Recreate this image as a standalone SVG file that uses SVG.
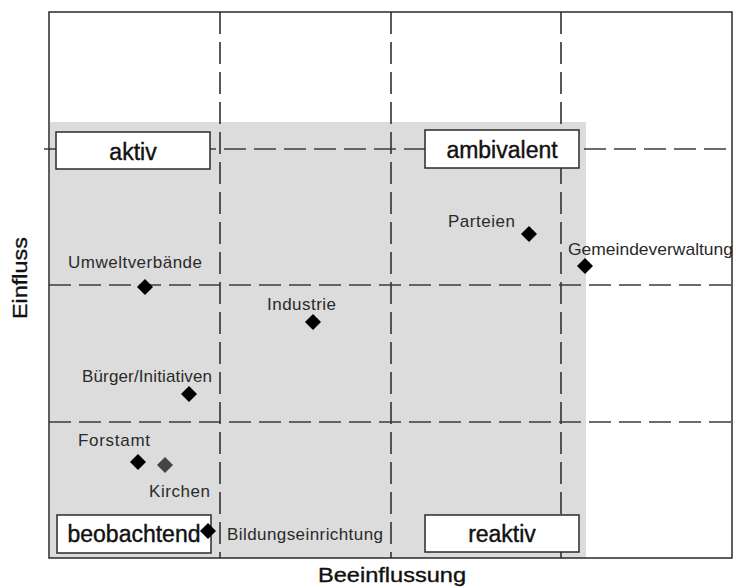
<svg xmlns="http://www.w3.org/2000/svg" width="736" height="588" viewBox="0 0 736 588">
  <defs>
    <style>
      .grid { stroke: #3c3c3c; stroke-width: 1.7; stroke-dasharray: 22 8; fill: none; }
      .frame { fill: none; stroke: #2a2a2a; stroke-width: 1.5; }
      .box { fill: #ffffff; stroke: #2a2a2a; stroke-width: 1.5; }
      .boxlabel { font-family: "Liberation Sans", Arial, sans-serif; font-size: 23px; fill: #111; text-anchor: middle; stroke: #111; stroke-width: 0.4; }
      .ptlabel { font-family: "Liberation Sans", Arial, sans-serif; font-size: 17px; fill: #2a2a2a; }
      .axis { font-family: "Liberation Sans", Arial, sans-serif; font-size: 20px; fill: #111; stroke: #111; stroke-width: 0.35; }
      .pt { fill: #000; }
    </style>
    <path id="diamond" d="M0,-8 L8,0 L0,8 L-8,0 Z"/>
  </defs>

  <rect width="736" height="588" fill="#ffffff"/>

  <!-- highlighted area of the matrix -->
  <rect x="50" y="122" width="536" height="436" fill="#dcdcdc"/>

  <!-- dashed quadrant grid -->
  <g id="connectors">
    <line class="grid" x1="220" y1="12" x2="220" y2="558"/>
    <line class="grid" x1="391" y1="12" x2="391" y2="558"/>
    <line class="grid" x1="561" y1="12" x2="561" y2="558"/>
    <line class="grid" x1="44" y1="149" x2="732" y2="149"/>
    <line class="grid" x1="49" y1="285" x2="732" y2="285"/>
    <line class="grid" x1="49" y1="422" x2="732" y2="422"/>
  </g>

  <!-- plot frame -->
  <rect class="frame" x="49" y="12" width="683" height="546"/>

  <!-- quadrant labels -->
  <g id="aktiv">
    <rect class="box" x="56" y="132" width="154" height="37"/>
    <text class="boxlabel" x="133" y="160">aktiv</text>
  </g>
  <g id="ambivalent">
    <rect class="box" x="425" y="130" width="154" height="38"/>
    <text class="boxlabel" x="502" y="158">ambivalent</text>
  </g>
  <g id="beobachtend">
    <rect class="box" x="57" y="515" width="154" height="38"/>
    <text class="boxlabel" x="134" y="542">beobachtend</text>
  </g>
  <g id="reaktiv">
    <rect class="box" x="425" y="515" width="154" height="37"/>
    <text class="boxlabel" x="502" y="542">reaktiv</text>
  </g>

  <!-- stakeholders -->
  <g id="umweltverbaende">
    <use href="#diamond" class="pt" x="145" y="287"/>
    <text class="ptlabel" x="68" y="268" textLength="134" lengthAdjust="spacing">Umweltverbände</text>
  </g>
  <g id="industrie">
    <use href="#diamond" class="pt" x="313" y="322"/>
    <text class="ptlabel" x="267" y="310" textLength="69" lengthAdjust="spacing">Industrie</text>
  </g>
  <g id="buerger-initiativen">
    <use href="#diamond" class="pt" x="189" y="394"/>
    <text class="ptlabel" x="82" y="382" textLength="130" lengthAdjust="spacing">Bürger/Initiativen</text>
  </g>
  <g id="forstamt">
    <use href="#diamond" class="pt" x="138" y="462"/>
    <text class="ptlabel" x="78" y="446" textLength="72" lengthAdjust="spacing">Forstamt</text>
  </g>
  <g id="kirchen">
    <use href="#diamond" x="165" y="465" fill="#454545"/>
    <text class="ptlabel" x="149" y="497" textLength="61" lengthAdjust="spacing">Kirchen</text>
  </g>
  <g id="bildungseinrichtung">
    <use href="#diamond" class="pt" x="208" y="531"/>
    <text class="ptlabel" x="227" y="540" textLength="156" lengthAdjust="spacing">Bildungseinrichtung</text>
  </g>
  <g id="parteien">
    <use href="#diamond" class="pt" x="529" y="234"/>
    <text class="ptlabel" x="448" y="227" textLength="67" lengthAdjust="spacing">Parteien</text>
  </g>
  <g id="gemeindeverwaltung">
    <use href="#diamond" class="pt" x="585" y="266"/>
    <text class="ptlabel" x="568" y="255" textLength="165" lengthAdjust="spacingAndGlyphs">Gemeindeverwaltung</text>
  </g>

  <!-- axis titles -->
  <text class="axis" x="392" y="582" text-anchor="middle" textLength="148" lengthAdjust="spacingAndGlyphs">Beeinflussung</text>
  <text class="axis" transform="translate(27,278) rotate(-90)" text-anchor="middle" textLength="82" lengthAdjust="spacingAndGlyphs">Einfluss</text>
</svg>
